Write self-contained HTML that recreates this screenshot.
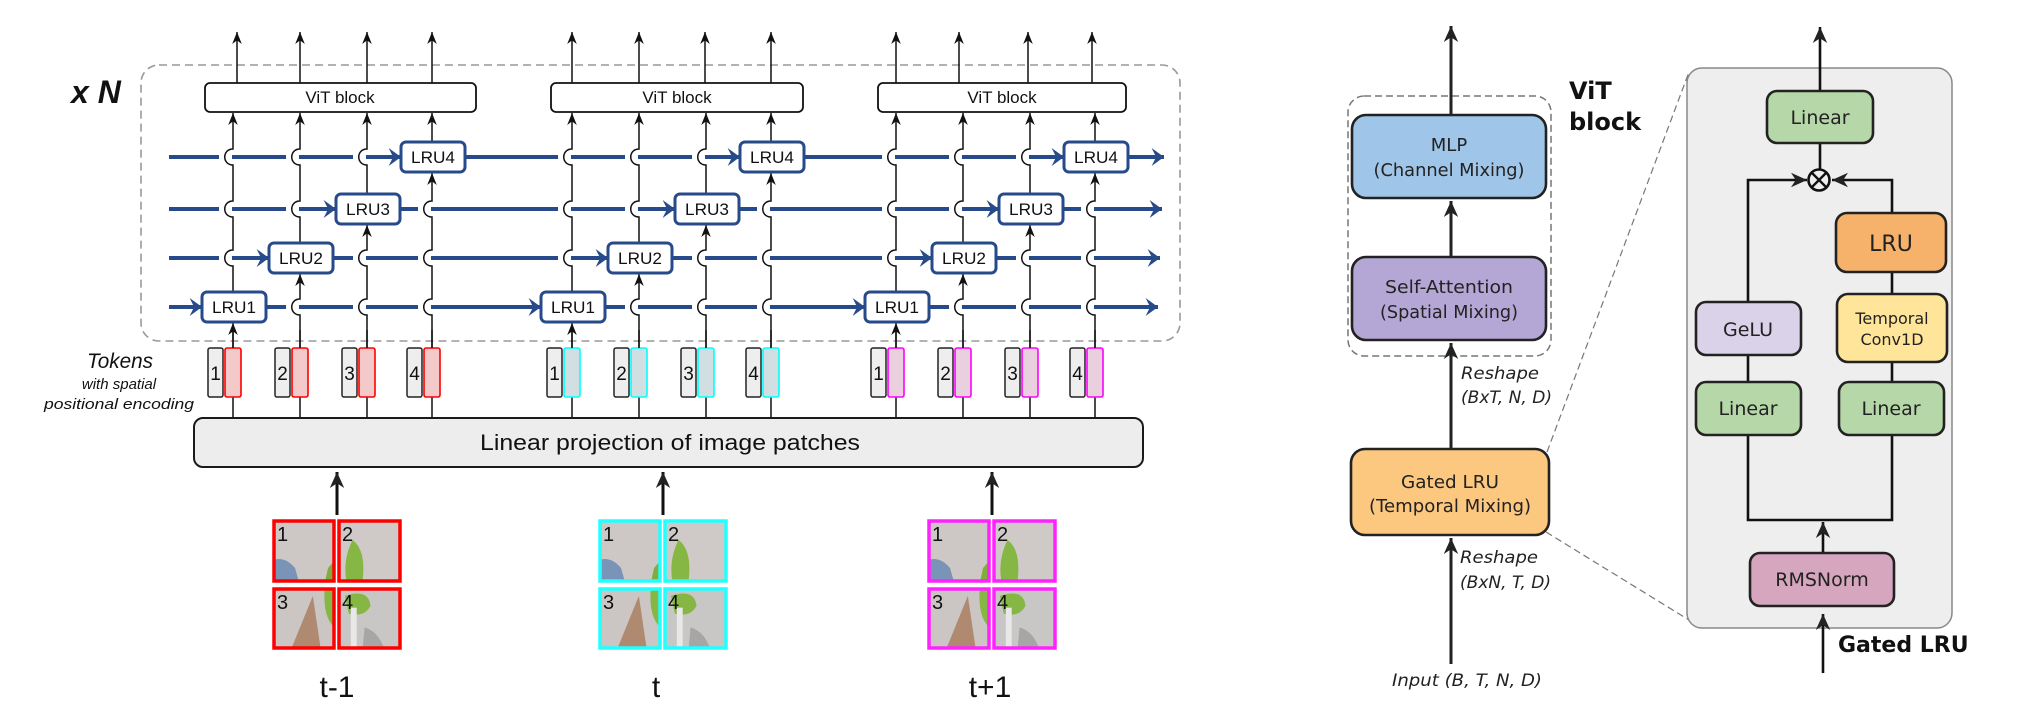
<!DOCTYPE html>
<html><head><meta charset="utf-8"><style>
html,body{margin:0;padding:0;background:#fff;}
svg{display:block;}
.lr{font-family:"Liberation Sans",sans-serif;}
.gs{font-family:"DejaVu Sans","Liberation Sans",sans-serif;}
</style></head><body>
<svg width="2021" height="719" viewBox="0 0 2021 719" xmlns="http://www.w3.org/2000/svg">
<defs>
<marker id="ab" markerUnits="userSpaceOnUse" markerWidth="12" markerHeight="12" refX="10" refY="5" orient="auto" viewBox="0 0 10 10"><path d="M0,1 L10,5 L0,9 L3,5 Z" fill="#111"/></marker>
<marker id="ab2" markerUnits="userSpaceOnUse" markerWidth="16" markerHeight="16" refX="10" refY="5" orient="auto" viewBox="0 0 10 10"><path d="M0,0.5 L10,5 L0,9.5 L3,5 Z" fill="#222"/></marker>
<marker id="abl" markerUnits="userSpaceOnUse" markerWidth="22" markerHeight="18" refX="11" refY="8" orient="auto" viewBox="0 0 11 16"><path d="M0,0 L11,8 L0,16 L4,8 Z" fill="#274b8a"/></marker>
<symbol id="p1" viewBox="0 0 62 62"><rect width="62" height="62" fill="#cdc8c6"/><path d="M0,40 Q12,36 22,48 L26,62 L0,62Z" fill="#7a94b8"/><path d="M55,48 L62,40 L62,62 L52,62Z" fill="#7fae3e"/></symbol>
<symbol id="p2" viewBox="0 0 62 62"><rect width="62" height="62" fill="#cfcac8"/><path d="M14,20 Q28,30 24,62 L8,62 Q4,40 14,20Z" fill="#86b643"/></symbol>
<symbol id="p3" viewBox="0 0 62 62"><rect width="62" height="62" fill="#cbc6c4"/><path d="M40,8 L48,62 L18,62Z" fill="#b08a70"/><path d="M52,0 L62,0 L62,40 Q50,30 52,0Z" fill="#86b643"/></symbol>
<symbol id="p4" viewBox="0 0 62 62"><rect width="62" height="62" fill="#c9c6c6"/><path d="M6,8 Q30,0 32,18 Q26,30 10,26Z" fill="#86b643"/><rect x="12" y="20" width="6" height="42" fill="#e8e8e8"/><path d="M26,40 Q40,44 46,62 L24,62Z" fill="#a6a6a6"/></symbol>
</defs>

<rect x="141" y="65" width="1039" height="276" rx="18" fill="none" stroke="#999" stroke-width="1.6" stroke-dasharray="8,5"/>
<text x="71" y="103" class="lr" font-size="32" font-weight="bold" font-style="italic" fill="#111">x N</text>

<g stroke="#111" stroke-width="1.5" fill="none" marker-end="url(#ab)">
<path d="M237,83 V32"/><path d="M300,83 V32"/><path d="M367,83 V32"/><path d="M432,83 V32"/>
<path d="M572,83 V32"/><path d="M639,83 V32"/><path d="M705,83 V32"/><path d="M771,83 V32"/>
<path d="M896,83 V32"/><path d="M959,83 V32"/><path d="M1028,83 V32"/><path d="M1092,83 V32"/>
</g>
<g fill="#fff" stroke="#111" stroke-width="1.8">
<rect x="205" y="83" width="271" height="29" rx="5"/>
<rect x="551" y="83" width="252" height="29" rx="5"/>
<rect x="878" y="83" width="248" height="29" rx="5"/>
</g>
<g class="lr" font-size="17" fill="#111" text-anchor="middle">
<text x="340" y="103">ViT block</text><text x="677" y="103">ViT block</text><text x="1002" y="103">ViT block</text>
</g>

<g stroke="#274b8a" stroke-width="4" fill="none" marker-end="url(#abl)">
<path d="M169,307 H202"/><path d="M266,307 H541"/><path d="M605,307 H865"/><path d="M929,307 H1158"/>
<path d="M169,258 H269"/><path d="M333,258 H608"/><path d="M672,258 H932"/><path d="M996,258 H1160"/>
<path d="M169,209 H336"/><path d="M400,209 H675"/><path d="M739,209 H999"/><path d="M1063,209 H1162"/>
<path d="M169,157 H401"/><path d="M465,157 H740"/><path d="M804,157 H1064"/><path d="M1128,157 H1164"/>
</g>

<g id="grp1">
<g fill="#fff">
<rect x="219" y="254" width="13" height="8"/><rect x="219" y="205" width="13" height="8"/><rect x="219" y="153" width="13" height="8"/>
<rect x="286" y="303" width="13" height="8"/><rect x="286" y="205" width="13" height="8"/><rect x="286" y="153" width="13" height="8"/>
<rect x="353" y="303" width="13" height="8"/><rect x="353" y="254" width="13" height="8"/><rect x="353" y="153" width="13" height="8"/>
<rect x="418" y="303" width="13" height="8"/><rect x="418" y="254" width="13" height="8"/><rect x="418" y="205" width="13" height="8"/>
</g>
<g stroke="#111" stroke-width="1.5" fill="none">
<path d="M233,348 V323" marker-end="url(#ab)"/>
<path d="M233,292 V266 C222,266 222,250 233,250 V217 C222,217 222,201 233,201 V165 C222,165 222,149 233,149 V113" marker-end="url(#ab)"/>
<path d="M300,348 V315 C289,315 289,299 300,299 V274" marker-end="url(#ab)"/>
<path d="M300,243 V217 C289,217 289,201 300,201 V165 C289,165 289,149 300,149 V113" marker-end="url(#ab)"/>
<path d="M367,348 V315 C356,315 356,299 367,299 V266 C356,266 356,250 367,250 V225" marker-end="url(#ab)"/>
<path d="M367,194 V165 C356,165 356,149 367,149 V113" marker-end="url(#ab)"/>
<path d="M432,348 V315 C421,315 421,299 432,299 V266 C421,266 421,250 432,250 V217 C421,217 421,201 432,201 V173" marker-end="url(#ab)"/>
<path d="M432,142 V113" marker-end="url(#ab)"/>
<path d="M233,418 V397 M300,418 V397 M367,418 V397 M432,418 V397"/>
</g>
<g fill="#fff" stroke="#274b8a" stroke-width="3">
<rect x="202" y="292" width="64" height="30" rx="5"/>
<rect x="269" y="243" width="64" height="30" rx="5"/>
<rect x="336" y="194" width="64" height="30" rx="5"/>
<rect x="401" y="142" width="64" height="30" rx="5"/>
</g>
<g fill="#eee" stroke="#222" stroke-width="1.5">
<rect x="208" y="348" width="15" height="49" rx="2"/><rect x="275" y="348" width="15" height="49" rx="2"/>
<rect x="342" y="348" width="15" height="49" rx="2"/><rect x="407" y="348" width="15" height="49" rx="2"/>
</g>
</g>
<use href="#grp1" transform="translate(339,0)"/>
<use href="#grp1" transform="translate(663,0)"/>
<g class="lr" font-size="17" fill="#111" text-anchor="middle">
<text x="234" y="313" textLength="44" lengthAdjust="spacingAndGlyphs">LRU1</text>
<text x="301" y="264" textLength="44" lengthAdjust="spacingAndGlyphs">LRU2</text>
<text x="368" y="215" textLength="44" lengthAdjust="spacingAndGlyphs">LRU3</text>
<text x="433" y="163" textLength="44" lengthAdjust="spacingAndGlyphs">LRU4</text>
<text x="573" y="313" textLength="44" lengthAdjust="spacingAndGlyphs">LRU1</text>
<text x="640" y="264" textLength="44" lengthAdjust="spacingAndGlyphs">LRU2</text>
<text x="707" y="215" textLength="44" lengthAdjust="spacingAndGlyphs">LRU3</text>
<text x="772" y="163" textLength="44" lengthAdjust="spacingAndGlyphs">LRU4</text>
<text x="897" y="313" textLength="44" lengthAdjust="spacingAndGlyphs">LRU1</text>
<text x="964" y="264" textLength="44" lengthAdjust="spacingAndGlyphs">LRU2</text>
<text x="1031" y="215" textLength="44" lengthAdjust="spacingAndGlyphs">LRU3</text>
<text x="1096" y="163" textLength="44" lengthAdjust="spacingAndGlyphs">LRU4</text>
</g>

<g stroke="#f00" stroke-width="1.6" fill="#f3c9c9">
<rect x="225" y="348" width="16" height="49" rx="2"/><rect x="292" y="348" width="16" height="49" rx="2"/><rect x="359" y="348" width="16" height="49" rx="2"/><rect x="424" y="348" width="16" height="49" rx="2"/>
</g>
<g stroke="#0ff" stroke-width="1.6" fill="#d2dfe2">
<rect x="564" y="348" width="16" height="49" rx="2"/><rect x="631" y="348" width="16" height="49" rx="2"/><rect x="698" y="348" width="16" height="49" rx="2"/><rect x="763" y="348" width="16" height="49" rx="2"/>
</g>
<g stroke="#f0f" stroke-width="1.6" fill="#ead0df">
<rect x="888" y="348" width="16" height="49" rx="2"/><rect x="955" y="348" width="16" height="49" rx="2"/><rect x="1022" y="348" width="16" height="49" rx="2"/><rect x="1087" y="348" width="16" height="49" rx="2"/>
</g>
<g stroke="#111" stroke-width="1.5">
<path d="M233,348 V330 M300,348 V330 M367,348 V330 M432,348 V330 M572,348 V330 M639,348 V330 M706,348 V330 M771,348 V330 M896,348 V330 M963,348 V330 M1030,348 V330 M1095,348 V330"/>
</g>
<g class="lr" font-size="19" fill="#111" text-anchor="middle">
<text x="215.5" y="380">1</text><text x="282.5" y="380">2</text><text x="349.5" y="380">3</text><text x="414.5" y="380">4</text>
<text x="554.5" y="380">1</text><text x="621.5" y="380">2</text><text x="688.5" y="380">3</text><text x="753.5" y="380">4</text>
<text x="878.5" y="380">1</text><text x="945.5" y="380">2</text><text x="1012.5" y="380">3</text><text x="1077.5" y="380">4</text>
</g>

<g class="lr" fill="#111" text-anchor="middle" font-style="italic">
<text x="120" y="368" font-size="21" textLength="66" lengthAdjust="spacingAndGlyphs">Tokens</text>
<text x="119" y="389" font-size="15">with spatial</text>
<text x="119" y="409" font-size="15" textLength="150" lengthAdjust="spacingAndGlyphs">positional encoding</text>
</g>

<rect x="194" y="418" width="949" height="49" rx="9" fill="#ededed" stroke="#1a1a1a" stroke-width="2"/>
<text x="670" y="450" class="lr" font-size="22" fill="#111" text-anchor="middle" textLength="380" lengthAdjust="spacingAndGlyphs">Linear projection of image patches</text>

<g stroke="#111" stroke-width="3" fill="none" marker-end="url(#ab2)">
<path d="M337,515 V472"/><path d="M663,515 V472"/><path d="M992,515 V472"/>
</g>

<g id="pg">
<use href="#p1" x="273" y="520" width="62" height="62"/>
<use href="#p2" x="338" y="520" width="63" height="62"/>
<use href="#p3" x="273" y="588" width="62" height="61"/>
<use href="#p4" x="338" y="588" width="63" height="61"/>
</g>
<use href="#pg" transform="translate(326,0)"/>
<use href="#pg" transform="translate(655,0)"/>
<g fill="none" stroke-width="3.5">
<g stroke="#f00"><rect x="274" y="521" width="60" height="60"/><rect x="339" y="521" width="61" height="60"/><rect x="274" y="589" width="60" height="59"/><rect x="339" y="589" width="61" height="59"/></g>
<g stroke="#2ff" transform="translate(326,0)"><rect x="274" y="521" width="60" height="60"/><rect x="339" y="521" width="61" height="60"/><rect x="274" y="589" width="60" height="59"/><rect x="339" y="589" width="61" height="59"/></g>
<g stroke="#f2f" transform="translate(655,0)"><rect x="274" y="521" width="60" height="60"/><rect x="339" y="521" width="61" height="60"/><rect x="274" y="589" width="60" height="59"/><rect x="339" y="589" width="61" height="59"/></g>
</g>
<g class="lr" font-size="20" fill="#111">
<text x="277" y="541">1</text><text x="342" y="541">2</text><text x="277" y="609">3</text><text x="342" y="609">4</text>
<text x="603" y="541">1</text><text x="668" y="541">2</text><text x="603" y="609">3</text><text x="668" y="609">4</text>
<text x="932" y="541">1</text><text x="997" y="541">2</text><text x="932" y="609">3</text><text x="997" y="609">4</text>
</g>
<g class="lr" font-size="30" fill="#111" text-anchor="middle">
<text x="337" y="697">t-1</text><text x="656" y="697">t</text><text x="990" y="697">t+1</text>
</g>

<rect x="1348" y="96" width="203" height="260" rx="16" fill="none" stroke="#777" stroke-width="1.5" stroke-dasharray="7,4"/>
<g stroke="#222" stroke-width="3" fill="none" marker-end="url(#ab2)">
<path d="M1451,115 V26"/><path d="M1451,257 V201"/><path d="M1451,449 V343"/><path d="M1451,664 V538"/>
</g>
<g stroke="#222" stroke-width="2.6">
<rect x="1352" y="115" width="194" height="83" rx="14" fill="#9fc5e8"/>
<rect x="1352" y="257" width="194" height="83" rx="14" fill="#b4a7d6"/>
<rect x="1351" y="449" width="198" height="86" rx="14" fill="#fcc77f"/>
</g>
<g class="gs" font-size="18" fill="#222" text-anchor="middle">
<text x="1449" y="151">MLP</text>
<text x="1449" y="176" textLength="151" lengthAdjust="spacingAndGlyphs">(Channel Mixing)</text>
<text x="1449" y="293" textLength="128" lengthAdjust="spacingAndGlyphs">Self-Attention</text>
<text x="1449" y="318" textLength="138" lengthAdjust="spacingAndGlyphs">(Spatial Mixing)</text>
<text x="1450" y="488" textLength="98" lengthAdjust="spacingAndGlyphs">Gated LRU</text>
<text x="1450" y="512" textLength="162" lengthAdjust="spacingAndGlyphs">(Temporal Mixing)</text>
</g>
<g class="gs" font-size="17" fill="#222" font-style="italic">
<text x="1461" y="379" textLength="78" lengthAdjust="spacingAndGlyphs">Reshape</text>
<text x="1461" y="403" textLength="91" lengthAdjust="spacingAndGlyphs">(BxT, N, D)</text>
<text x="1460" y="563" textLength="78" lengthAdjust="spacingAndGlyphs">Reshape</text>
<text x="1460" y="588" textLength="91" lengthAdjust="spacingAndGlyphs">(BxN, T, D)</text>
<text x="1392" y="686" textLength="150" lengthAdjust="spacingAndGlyphs">Input (B, T, N, D)</text>
</g>
<g class="gs" font-size="24" font-weight="bold" fill="#111">
<text x="1569" y="99">ViT</text><text x="1569" y="130">block</text>
</g>
<g stroke="#777" stroke-width="1.2" stroke-dasharray="7,4">
<path d="M1547,452 L1689,72"/><path d="M1546,532 L1689,620"/>
</g>

<rect x="1687" y="68" width="265" height="560" rx="15" fill="#eee" stroke="#888" stroke-width="1.5"/>
<g stroke="#111" stroke-width="2.6" fill="none">
<path d="M1820,91 V27" marker-end="url(#ab2)"/>
<path d="M1820,143 V169"/>
<path d="M1748,302 V180 H1807" marker-end="url(#ab2)"/>
<path d="M1892,213 V180 H1832" marker-end="url(#ab2)"/>
<path d="M1748,355 V382 M1892,272 V294 M1892,362 V382"/>
<path d="M1748,435 V520 H1892 V435"/>
<path d="M1823,553 V522" marker-end="url(#ab2)"/>
<path d="M1823,673 V614" marker-end="url(#ab2)"/>
</g>
<circle cx="1819" cy="180" r="10.5" fill="#eee" stroke="#111" stroke-width="2.6"/>
<path d="M1812,173 L1826,187 M1826,173 L1812,187" stroke="#111" stroke-width="2.4"/>
<g stroke="#222" stroke-width="2.6">
<rect x="1767" y="91" width="106" height="52" rx="10" fill="#b6d7a8"/>
<rect x="1836" y="213" width="110" height="59" rx="11" fill="#f6b26b"/>
<rect x="1837" y="294" width="110" height="68" rx="11" fill="#ffe599"/>
<rect x="1696" y="302" width="105" height="53" rx="10" fill="#d9d2e9"/>
<rect x="1696" y="382" width="105" height="53" rx="10" fill="#b6d7a8"/>
<rect x="1839" y="382" width="105" height="53" rx="10" fill="#b6d7a8"/>
<rect x="1750" y="553" width="144" height="53" rx="10" fill="#d5a6bd"/>
</g>
<g class="gs" fill="#222" text-anchor="middle">
<text x="1820" y="124" font-size="19">Linear</text>
<text x="1891" y="251" font-size="22">LRU</text>
<text x="1892" y="324" font-size="16">Temporal</text>
<text x="1892" y="345" font-size="16">Conv1D</text>
<text x="1748" y="336" font-size="19">GeLU</text>
<text x="1748" y="415" font-size="19">Linear</text>
<text x="1891" y="415" font-size="19">Linear</text>
<text x="1822" y="586" font-size="19">RMSNorm</text>
</g>
<text x="1838" y="652" class="gs" font-size="22" font-weight="bold" fill="#111">Gated LRU</text>
</svg>
</body></html>
